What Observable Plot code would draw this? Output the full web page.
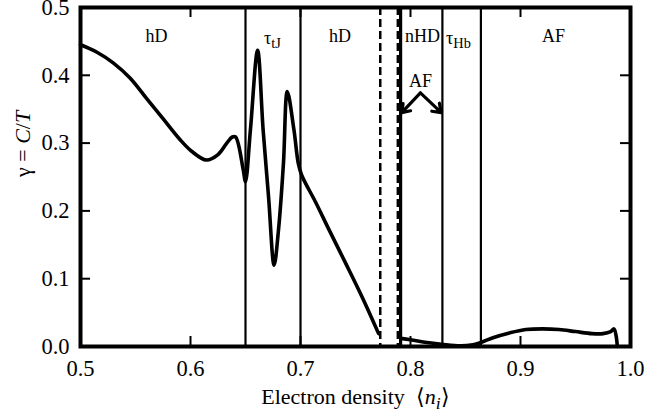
<!DOCTYPE html>
<html><head><meta charset="utf-8">
<script src="https://cdn.jsdelivr.net/npm/d3@7"></script>
<script src="https://cdn.jsdelivr.net/npm/@observablehq/plot@0.6"></script>
<style>body{margin:0;background:#fff;}</style>
</head><body><div id="chart"></div>
<script>
// hD / tJ branch of gamma = C/T
const hdX = [0.500,0.515,0.530,0.545,0.560,0.575,0.590,0.601,0.6145,0.625,0.633,0.638,0.641,0.648,0.650,0.6545,0.661,0.666,0.671,0.676,0.680,0.6845,0.688,0.694,0.698,0.701,0.714,0.726,0.741,0.756,0.771];
const hdY = [0.445,0.434,0.418,0.396,0.366,0.336,0.306,0.288,0.275,0.283,0.300,0.309,0.309,0.260,0.243,0.320,0.437,0.320,0.220,0.120,0.172,0.270,0.376,0.320,0.270,0.253,0.212,0.172,0.123,0.073,0.019];
// AF branch
const afX = [0.791,0.800,0.815,0.830,0.845,0.855,0.864,0.875,0.890,0.905,0.920,0.935,0.950,0.965,0.975,0.982,0.985,0.987,0.988];
const afY = [0.012,0.010,0.006,0.003,0.001,0.002,0.006,0.013,0.020,0.025,0.026,0.025,0.022,0.019,0.019,0.022,0.026,0.015,0.000];
// phase boundaries
const solidLines = [0.65, 0.70, 0.829, 0.864];
const thickLines = [0.791];
const dashedLines = [0.7725, 0.7885];
// region labels
const regionLabels = ["hD", "τtJ", "hD", "nHD", "τHb", "AF"];
const regionX = [0.569, 0.6745, 0.736, 0.811, 0.8436, 0.930];
const regionY = [0.457, 0.455, 0.457, 0.457, 0.455, 0.457];
const afLabel = ["AF"];
const afLabelX = [0.809];
const afLabelY = [0.391];
const arrowX1 = [0.809, 0.809];
const arrowY1 = [0.374, 0.374];
const arrowX2 = [0.792, 0.828];
const arrowY2 = [0.345, 0.345];
// axes
const xTicks = [0.5, 0.6, 0.7, 0.8, 0.9, 1.0];
const yTicks = [0.0, 0.1, 0.2, 0.3, 0.4, 0.5];
const xTitle = ["Electron density ⟨ni⟩"];
const yTitle = ["γ = C/T"];

const rich = {
  "γ = C/T": [["γ = ",""],["C","i"],["/",""],["T","i"]],
  "Electron density ⟨ni⟩": [["Electron density  ⟨",""],["n","i"],["i","is"],["⟩",""]],
  "τtJ": [["τ",""],["tJ","s"]],
  "τHb": [["τ",""],["Hb","s"]]
};

const fmt = d3.format(".1f");
const plot = Plot.plot({
  width: 645, height: 417,
  marginLeft: 80, marginRight: 15, marginTop: 7, marginBottom: 71,
  style: {fontFamily: "'Liberation Serif', 'Times New Roman', serif", fontSize: "22px", background: "white", color: "black"},
  x: {domain: [0.5, 1.0]},
  y: {domain: [0, 0.5]},
  marks: [
    Plot.axisX({ticks: xTicks, anchor: "bottom", tickSize: 0, tickPadding: 14, tickFormat: fmt, label: null, fontSize: 22.5}),
    Plot.axisY({ticks: yTicks, anchor: "left", tickSize: 0, tickPadding: 11, tickFormat: fmt, label: null, fontSize: 22.5}),
    Plot.tickX(xTicks, {x: d => d, insetTop: 329, strokeWidth: 2}),
    Plot.tickX(xTicks, {x: d => d, insetBottom: 329, strokeWidth: 2}),
    Plot.tickY(yTicks, {y: d => d, insetRight: 540, strokeWidth: 2}),
    Plot.tickY(yTicks, {y: d => d, insetLeft: 540, strokeWidth: 2}),
    Plot.ruleX(solidLines, {strokeWidth: 2.2}),
    Plot.ruleX(thickLines, {strokeWidth: 3.2}),
    Plot.ruleX(dashedLines, {strokeWidth: 2.5, strokeDasharray: "8,4"}),
    Plot.line(hdX, {x: hdX, y: hdY, curve: "catmull-rom", strokeWidth: 3.6}),
    Plot.line(afX, {x: afX, y: afY, curve: "catmull-rom", strokeWidth: 3.6}),
    Plot.arrow(arrowX1, {x1: arrowX1, y1: arrowY1, x2: arrowX2, y2: arrowY2, strokeWidth: 3.2, headLength: 10, headAngle: 70}),
    Plot.text(regionLabels, {x: regionX, y: regionY, fontSize: 18, lineAnchor: "middle"}),
    Plot.text(afLabel, {x: afLabelX, y: afLabelY, fontSize: 18, lineAnchor: "middle"}),
    Plot.text(xTitle, {frameAnchor: "bottom", dy: 50, fontSize: 22, lineAnchor: "middle"}),
    Plot.text(yTitle, {frameAnchor: "left", dx: -58, rotate: -90, fontSize: 22, lineAnchor: "middle"}),
    Plot.frame({strokeWidth: 4})
  ]
});

d3.select(plot).selectAll("text").each(function() {
  const segs = rich[this.textContent];
  if (!segs) return;
  const el = d3.select(this);
  el.text(null);
  let shifted = false;
  for (const [s, st] of segs) {
    const t = el.append("tspan").text(s);
    if (st.includes("i")) t.attr("font-style", "italic");
    if (st.includes("s")) {
      t.attr("font-size", "0.8em").attr("dy", "0.3em"); shifted = true;
    } else if (shifted) {
      t.attr("dy", "-0.24em"); shifted = false;
    }
  }
});

document.getElementById("chart").appendChild(plot);
</script>
</body></html>
